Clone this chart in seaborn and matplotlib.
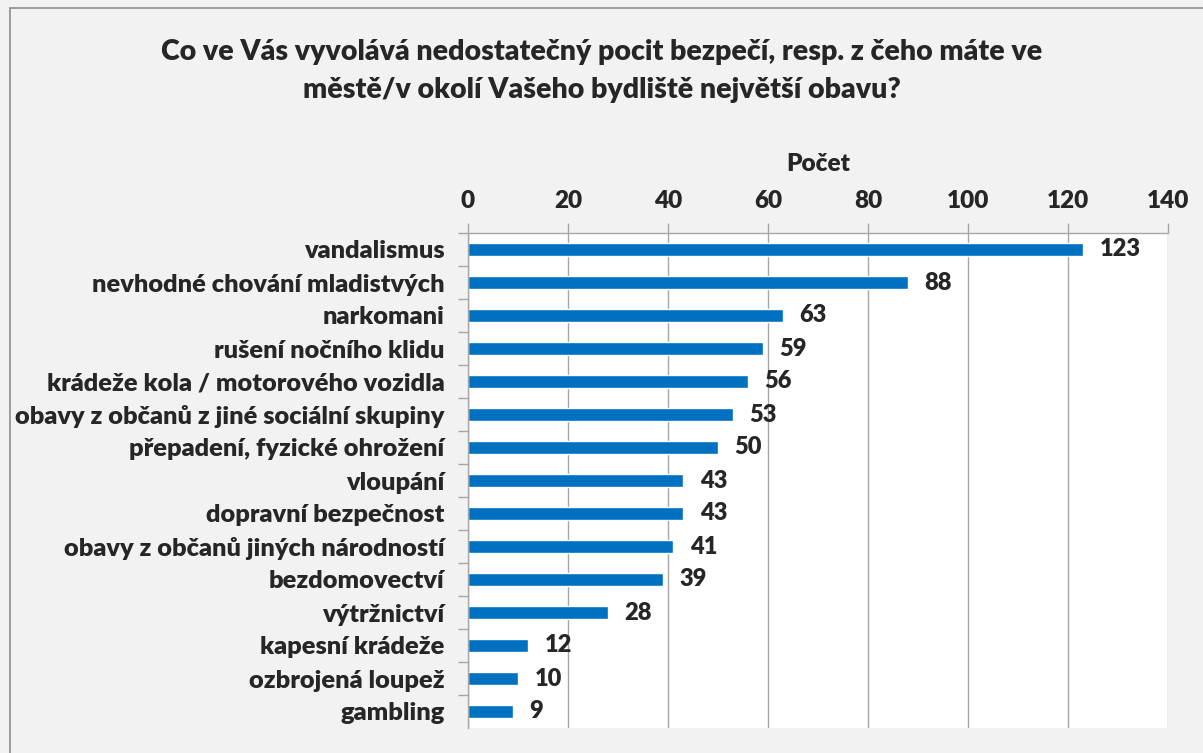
import matplotlib
matplotlib.use("Agg")
import matplotlib.pyplot as plt
import seaborn as sns
import pandas as pd
import numpy as np
from matplotlib.patches import Rectangle

# data
kategorie = ["vandalismus", "nevhodné chování mladistvých", "narkomani",
             "rušení nočního klidu", "krádeže kola / motorového vozidla",
             "obavy z občanů z jiné sociální skupiny", "přepadení, fyzické ohrožení",
             "vloupání", "dopravní bezpečnost", "obavy z občanů jiných národností",
             "bezdomovectví", "výtržnictví", "kapesní krádeže", "ozbrojená loupež",
             "gambling"]
pocet = [123, 88, 63, 59, 56, 53, 50, 43, 43, 41, 39, 28, 12, 10, 9]
x_ticks = [0, 20, 40, 60, 80, 100, 120, 140]

df = pd.DataFrame({"kategorie": kategorie, "pocet": pocet})

sns.set_theme(style="white")
plt.rcParams["font.family"] = ["Lato", "DejaVu Sans"]
plt.rcParams["font.weight"] = "heavy"
W = "heavy"

fig = plt.figure(figsize=(12.03, 7.53), dpi=100)
fig.patch.set_facecolor("#f2f2f2")
# sedy ramecek kolem celeho grafu
fig.patches.append(Rectangle((10 / 1203, -0.01), 1.1, 1 - 8 / 753 + 0.01,
                             transform=fig.transFigure, fill=False,
                             edgecolor="#8c8c8c", linewidth=1.2))

ax = fig.add_axes([468 / 1203, 1 - 728 / 753, 700 / 1203, 495 / 753])
ax.set_facecolor("white")
sns.barplot(data=df, x="pocet", y="kategorie", orient="h", color="#0070C0",
            width=0.37, saturation=1, ax=ax)

ax.set_xlim(0, 140)
ax.set_ylim(len(kategorie) - 0.5, -0.5)
ax.set_xticks(x_ticks)
ax.xaxis.tick_top()
ax.xaxis.set_label_position("top")
ax.set_xlabel("Počet", fontsize=17.5, fontweight=W, labelpad=14)
ax.set_ylabel("")
ax.grid(axis="x", color="#a6a6a6", linewidth=1)
ax.set_axisbelow(True)

for s in ["bottom", "right"]:
    ax.spines[s].set_visible(False)
for s in ["top", "left"]:
    ax.spines[s].set_color("#a6a6a6")
    ax.spines[s].set_linewidth(1)

ax.tick_params(axis="x", which="major", top=True, length=7, width=1,
               color="#a6a6a6", labelsize=17.5, pad=8)
ax.set_yticks(np.arange(len(kategorie)) - 0.5, minor=True)
ax.tick_params(axis="y", which="minor", left=True, length=7, width=1, color="#a6a6a6")
ax.tick_params(axis="y", which="major", length=0, labelsize=18.3, pad=17)
for lab in ax.get_xticklabels() + ax.get_yticklabels():
    lab.set_fontweight(W)

# hodnoty za sloupci
for i, v in enumerate(pocet):
    ax.annotate(str(v), (v, i), xytext=(12, 0), textcoords="offset points",
                va="center", ha="left", fontsize=17, fontweight=W)

fig.text(0.5, 1 - 71 / 753,
         "Co ve Vás vyvolává nedostatečný pocit bezpečí, resp. z čeho máte ve\n"
         "městě/v okolí Vašeho bydliště největší obavu?",
         ha="center", va="center", fontsize=20.5, fontweight=W, linespacing=1.6)

fig.savefig("out.png", dpi=100, facecolor=fig.get_facecolor())
